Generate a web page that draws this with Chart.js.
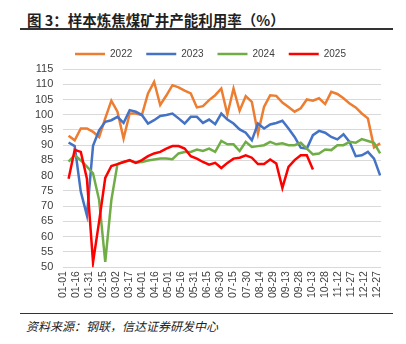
<!DOCTYPE html>
<html lang="zh-CN">
<head>
<meta charset="utf-8">
<script src="https://cdn.jsdelivr.net/npm/chart.js@4.4.1/dist/chart.umd.min.js"></script>
<style>
  html, body { margin: 0; padding: 0; background: #fff; }
  body { width: 406px; height: 344px; position: relative; overflow: hidden; font-family: "Noto Sans CJK SC", sans-serif; }
  .title { position: absolute; left: 27px; top: 9px; font-size: 14.5px; font-weight: bold; color: #1f1f1f; white-space: nowrap; }
  .rule-top { position: absolute; left: 20px; top: 28px; width: 373px; height: 2px; background: #333; }
  .chart-box { position: absolute; left: 0; top: 34px; width: 406px; height: 268px; }
  .rule-bottom { position: absolute; left: 20px; top: 313px; width: 373px; height: 1px; background: #333; }
  .source { position: absolute; left: 26px; top: 317px; font-size: 12px; font-style: italic; color: #222; white-space: nowrap; }
</style>
</head>
<body>
<div class="title">图 3：样本炼焦煤矿井产能利用率（%）</div>
<div class="rule-top"></div>
<div class="chart-box"><canvas id="capacityChart"></canvas></div>
<div class="rule-bottom"></div>
<div class="source">资料来源：钢联，信达证券研发中心</div>

<script>
// weekly sample dates (MM-DD)
const weekDates = [
  '01-07', '01-14', '01-21', '01-28', '02-04', '02-11', '02-18', '02-25', '03-04', '03-11',
  '03-18', '03-25', '04-01', '04-08', '04-15', '04-22', '04-29', '05-06', '05-13', '05-20',
  '05-27', '06-03', '06-10', '06-17', '06-24', '07-01', '07-08', '07-15', '07-22', '07-29',
  '08-05', '08-12', '08-19', '08-26', '09-02', '09-09', '09-16', '09-23', '09-30', '10-07',
  '10-14', '10-21', '10-28', '11-04', '11-11', '11-18', '11-25', '12-02', '12-09', '12-16',
  '12-23', '12-30'
];

// x axis tick labels, every 15 days
const tickLabels = [
  '01-01', '01-16', '01-31', '02-15', '03-02', '03-17', '04-01', '04-16', '05-01', '05-16',
  '05-31', '06-15', '06-30', '07-15', '07-30', '08-14', '08-29', '09-13', '09-28', '10-13',
  '10-28', '11-12', '11-27', '12-12', '12-27'
];

const years = ['2022', '2023', '2024', '2025'];
const colors = ['#ED7D31', '#4472C4', '#70AD47', '#FF0000'];

const util2022 = [
  93.1, 91.6, 95.5, 95.5, 94.4, 92.7, 98.8, 104.6, 101, 92.2,
  100.4, 100.4, 99.9, 107, 110.8, 103.2, 106.3, 109.7, 109, 107.9,
  107, 102.4, 102.8, 104.8, 106.4, 108.6, 100.1, 108.6, 101.3, 106.1,
  104.2, 93.8, 102.6, 106.4, 106.2, 104, 102.5, 101, 102.1, 105,
  104.6, 105.4, 103.5, 107.5, 106.8, 105.4, 103.7, 102.4, 100.4, 98.8,
  89.3, 90.6
];
const util2023 = [
  90.9, 89.7, 74.7, 67, 89.8, 94.9, 97.7, 98.2, 99.3, 97.3,
  101.5, 101, 99.9, 97.1, 98.2, 99.6, 99.9, 100.4, 98.8, 97.1,
  99.3, 99.3, 97.3, 98.4, 96.9, 100.4, 98.4, 97.1, 95.2, 94.1,
  91.6, 97.1, 95.5, 96.8, 97.3, 98.0, 95.5, 92.7, 89.2, 88.9,
  93.3, 94.7, 94.1, 92.7, 91.9, 93.6, 91.1, 86.4, 86.7, 87.8,
  85.6, 80.1
];
const util2024 = [
  84.6, 86.8, 85, 83, 80.8, 72, 51.7, 72, 83.8, 84.5,
  85, 84.3, 84.5, 85, 85.3, 85.6, 85.6, 85.4, 87.3, 87.8,
  87.8, 88.6, 88.1, 88.9, 87.8, 91.4, 90.3, 90.3, 88.1, 91.1,
  89.4, 89.7, 90, 91.1, 90.3, 90.6, 90, 90, 90.8, 88.9,
  87, 87.3, 88.6, 88.4, 90, 90, 91.1, 90.8, 92, 91.4,
  90.8, 87.3
];
const util2025 = [
  79, 88.5, 87.8, 79, 51.6, 65, 79.3, 83.2, 83.8, 84.5,
  85.1, 84.2, 85.1, 86.4, 87.3, 87.8, 88.9, 89.7, 89.7, 88.9,
  86.4, 85.6, 84.5, 83.6, 84.2, 82.5, 84.2, 85.6, 85.9, 86.7,
  85.9, 83.8, 83.8, 85.3, 84, 76, 82.9, 85.1, 86.7, 86.7,
  82
];

// day of year for an MM-DD string (non-leap year)
function dayOfYear(md) {
  const [m, d] = md.split('-').map(Number);
  return (Date.UTC(2023, m - 1, d) - Date.UTC(2023, 0, 1)) / 86400000;
}

function toPoints(values) {
  return values.map((v, i) => ({ x: dayOfYear(weekDates[i]), y: v }));
}

const seriesValues = [util2022, util2023, util2024, util2025];

// legend in the original sits a little right of the canvas centre
const legendShift = {
  id: 'legendShift',
  afterLayout(chart) {
    chart.legend.left += 7.5;
    chart.legend.right += 7.5;
  }
};

document.addEventListener('DOMContentLoaded', function() {
  const ctx = document.getElementById('capacityChart').getContext('2d');
  const tickFont = { family: '"Liberation Sans", Arial, sans-serif', size: 11 };

  new Chart(ctx, {
    type: 'line',
    data: {
      datasets: years.map((year, i) => ({
        label: year,
        data: toPoints(seriesValues[i]),
        borderColor: colors[i],
        backgroundColor: colors[i],
        borderWidth: 2.5,
        pointRadius: 0,
        tension: 0,
        order: years.length - i // later years on top
      }))
    },
    options: {
      responsive: true,
      maintainAspectRatio: false,
      animation: false,
      devicePixelRatio: 1,
      layout: {
        padding: { left: 25, right: 25, top: 1, bottom: 0 }
      },
      scales: {
        x: {
          type: 'linear',
          min: 0,
          max: 364,
          grid: { display: false, drawTicks: false },
          border: { display: false },
          ticks: {
            stepSize: 15,
            maxTicksLimit: 30,
            includeBounds: false,
            autoSkip: false,
            maxRotation: 90,
            minRotation: 90,
            padding: 4,
            color: '#404040',
            font: { family: tickFont.family, size: 10.5 },
            callback: value => tickLabels[Math.round(value / 15)]
          }
        },
        y: {
          min: 50,
          max: 115,
          grid: { color: '#d9d9d9', lineWidth: 1, drawTicks: false },
          border: { display: false },
          ticks: {
            stepSize: 5,
            maxTicksLimit: 20,
            autoSkip: false,
            padding: 10,
            color: '#404040',
            font: tickFont
          }
        }
      },
      plugins: {
        legend: {
          display: true,
          position: 'top',
          labels: {
            usePointStyle: true,
            pointStyle: 'line',
            pointStyleWidth: 30,
            boxHeight: 10,
            padding: 14,
            color: '#404040',
            font: { family: tickFont.family, size: 10 },
            sort: (a, b) => a.datasetIndex - b.datasetIndex
          }
        },
        tooltip: { enabled: false }
      }
    },
    plugins: [legendShift]
  });
});
</script>
</body>
</html>
